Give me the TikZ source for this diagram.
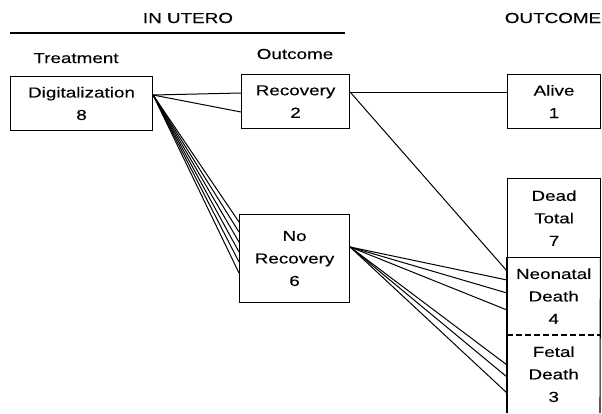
\documentclass[tikz,border=0pt]{standalone}
\usepackage{fontspec}
\setmainfont[FakeStretch=1.3,FakeBold=0.2]{Liberation Sans}
\begin{document}
\begin{tikzpicture}[x=1pt,y=-1pt,
  every node/.style={font=\fontsize{14.5}{22.5}\selectfont},
  box/.style={draw,line width=1.1pt,rectangle,anchor=north west,align=center,inner sep=0pt},
  cell/.style={rectangle,anchor=north west,align=center,inner sep=0pt},
  conn/.style={line width=1pt},
  lbl/.style={anchor=base,inner sep=0pt}]
\useasboundingbox (0,0) rectangle (602,413);
% headers
\node[lbl] (inutero) at (188,23) {IN UTERO};
\node[lbl] (outcomehead) at (553,23) {OUTCOME};
\node[lbl] (treatment) at (76,63) {Treatment};
\node[lbl] (outcome) at (295,59) {Outcome};
\coordinate (ruleL) at (10,33);
\coordinate (ruleR) at (345,33);
\draw[line width=1.1pt] (ruleL) -- (ruleR);
% boxes
\node[box,minimum width=142pt,minimum height=54pt] (dig) at (10,76) {Digitalization\\8};
\node[box,minimum width=108pt,minimum height=54pt] (rec) at (241,74) {Recovery\\2};
\node[box,minimum width=93pt,minimum height=54pt] (alive) at (507,74) {Alive\\1};
\node[box,minimum width=110pt,minimum height=88pt] (nr) at (239,214) {No\\Recovery\\6};
\node[box,minimum width=93pt,minimum height=79pt] (dead) at (507,178) {Dead\\Total\\7};
\node[cell,minimum width=93pt,minimum height=78pt] (neo) at (507,257) {Neonatal\\Death\\4};
\node[cell,minimum width=93pt,minimum height=78pt] (fetal) at (507,335) {Fetal\\Death\\3};
\coordinate (fbl) at (507,413);
\coordinate (fbr) at (600,413);
\draw[line width=1.1pt] (fbl) -- (neo.north west);
\draw[line width=1.1pt] (fbr) -- (neo.north east);
\draw[line width=1.1pt,dash pattern=on 6pt off 3pt] (fetal.north west) -- (fetal.north east);
% connectors from Digitalization
\coordinate (d0) at ([yshift=-19pt]dig.north east);
\draw[conn] (d0) -- ([yshift=-19pt]rec.north west);
\draw[conn] (d0) -- ([yshift=-38pt]rec.north west);
\foreach \o in {8,18,28,38,48,59}
  \draw[conn] (d0) -- ([yshift=-\o pt]nr.north west);
% from Recovery
\coordinate (r0) at ([yshift=-18pt]rec.north east);
\draw[conn] (r0) -- ([yshift=-18pt]alive.north west);
\draw[conn] (r0) -- ([yshift=-14pt]neo.north west);
% from No Recovery
\coordinate (n0) at ([yshift=-33pt]nr.north east);
\foreach \o in {23,36,53}
  \draw[conn] (n0) -- ([yshift=-\o pt]neo.north west);
\foreach \o in {30,42,58}
  \draw[conn] (n0) -- ([yshift=-\o pt]fetal.north west);
\end{tikzpicture}
\end{document}
